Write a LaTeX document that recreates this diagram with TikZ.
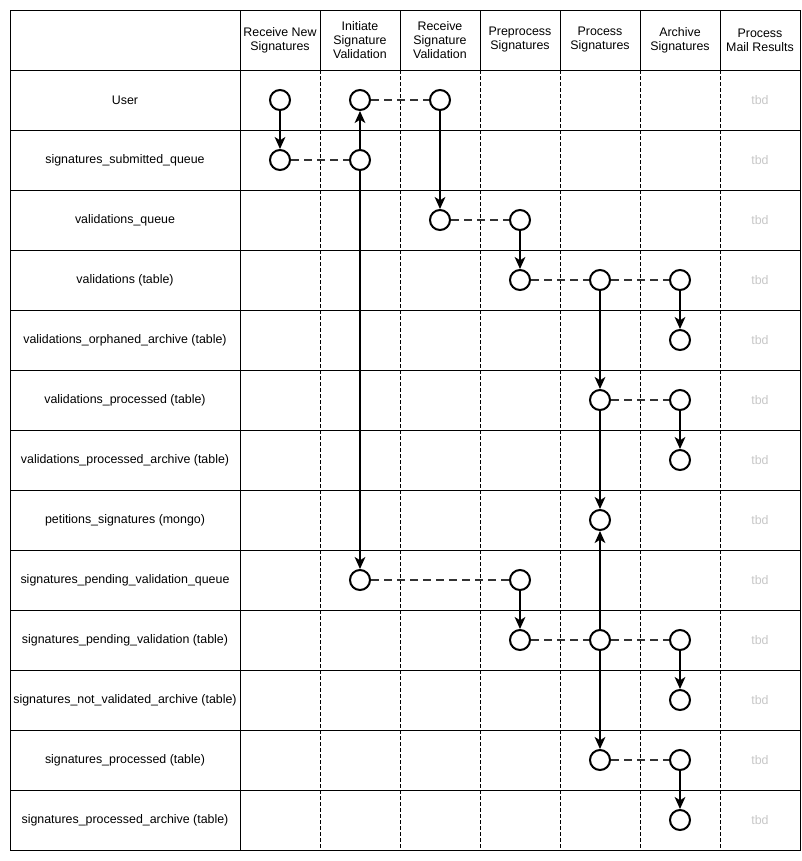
\documentclass[tikz,border=0pt]{standalone}
\usepackage{fontspec}
\setmainfont{Liberation Sans}
\usetikzlibrary{arrows.meta}

\begin{document}
\begin{tikzpicture}[x=0.75pt,y=-0.75pt,
    dot/.style={circle,draw,line width=1.5pt,minimum size=15pt,inner sep=0pt,fill=white},
    flow/.style={line width=1.5pt,-{Stealth[length=9pt,width=8pt,inset=2.5pt]}},
    link/.style={line width=1.5pt,draw=black!80,dash pattern=on 6pt off 3.75pt},
    lane/.style={line width=0.7pt,dash pattern=on 3pt off 1.5pt},
    lbl/.style={font=\fontsize{9.3}{10.5}\selectfont,align=center}]
                \useasboundingbox (0,0) rectangle (802,861);
                % grid
                \draw[line width=0.75pt] (10,10) rectangle (800,850);
                \foreach \y in {70,130,...,790} \draw[line width=0.75pt] (10,\y) -- (800,\y);
                \draw[line width=0.75pt] (240,10) -- (240,850);
                \foreach \x in {320,400,...,720} {
                    \draw[line width=0.75pt] (\x,10) -- (\x,70);
                    \draw[lane] (\x,70) -- (\x,850);
                }
                % column heads
                \foreach \t [count=\c] in {Receive New\\Signatures, Initiate\\Signature\\Validation,
                        Receive\\Signature\\Validation, Preprocess\\Signatures, Process\\Signatures,
                        Archive\\Signatures, Process\\Mail Results}
                    \node[lbl] (h\c) at ({200+80*\c},40) {\t};
                % row heads
                \foreach \t [count=\r] in {User, signatures\_submitted\_queue, validations\_queue,
                        validations (table), validations\_orphaned\_archive (table),
                        validations\_processed (table), validations\_processed\_archive (table),
                        petitions\_signatures (mongo), signatures\_pending\_validation\_queue,
                        signatures\_pending\_validation (table), signatures\_not\_validated\_archive (table),
                        signatures\_processed (table), signatures\_processed\_archive (table)} {
                    \node[lbl] (r\r) at (125,{40+60*\r}) {\t};
                    \node[lbl,text=black!22] (t\r) at (760,{40+60*\r}) {tbd};
                }
                % steps
                \foreach \c/\r in {1/1,1/2,2/1,2/2,2/9,3/1,3/3,4/3,4/4,4/9,4/10,
                        5/4,5/6,5/8,5/10,5/12,6/4,6/5,6/6,6/7,6/10,6/11,6/12,6/13}
                    \node[dot] (d\c-\r) at ({200+80*\c},{40+60*\r}) {};
                \foreach \a/\b in {1-2/2-2,2-1/3-1,3-3/4-3,4-4/5-4,5-4/6-4,5-6/6-6,
                        2-9/4-9,4-10/5-10,5-10/6-10,5-12/6-12}
                    \draw[link] (d\a) -- (d\b);
                \foreach \a/\b in {1-1/1-2,2-2/2-1,2-2/2-9,3-1/3-3,4-3/4-4,4-9/4-10,5-4/5-6,
                        5-6/5-8,5-10/5-8,5-10/5-12,6-4/6-5,6-6/6-7,6-10/6-11,6-12/6-13}
                    \draw[flow] (d\a) -- (d\b);
            \end{tikzpicture}
\end{document}
